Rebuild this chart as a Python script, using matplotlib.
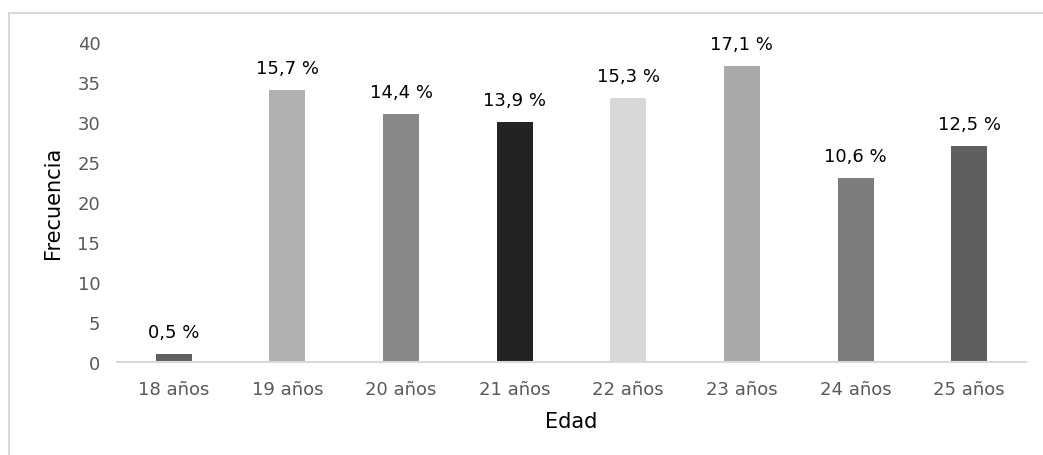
import matplotlib
matplotlib.use("Agg")
import matplotlib.pyplot as plt
from matplotlib.lines import Line2D

plt.rcParams['font.family'] = ['DejaVu Sans']

categories = ["18 años", "19 años", "20 años", "21 años", "22 años", "23 años", "24 años", "25 años"]
frecuencia = [1, 34, 31, 30, 33, 37, 23, 27]
porcentaje = ["0,5 %", "15,7 %", "14,4 %", "13,9 %", "15,3 %", "17,1 %", "10,6 %", "12,5 %"]
bar_colors = ["#5f5f5f", "#b1b1b1", "#878787", "#232323", "#d8d8d8", "#a9a9a9", "#7d7d7d", "#5f5f5f"]
yticks = [0, 5, 10, 15, 20, 25, 30, 35, 40]

W, H = 1043, 456
fig = plt.figure(figsize=(W / 100, H / 100), dpi=100)
ax = fig.add_axes([117 / W, 1 - 363 / H, (1026 - 117) / W, (363 - 43) / H])

x = list(range(len(categories)))
ax.bar(x, frecuencia, width=0.317, color=bar_colors, zorder=2)
for xi, v, lab in zip(x, frecuencia, porcentaje):
    ax.annotate(lab, (xi, v), xytext=(0, 9), textcoords="offset points",
                ha="center", va="bottom", fontsize=13, color="#000000")

ax.set_xlim(-0.5, len(categories) - 0.5)
ax.set_ylim(0, 40)
ax.set_yticks(yticks)
ax.set_xticks(x)
ax.set_xticklabels(categories)
ax.tick_params(axis="both", length=0, labelsize=13, labelcolor="#595959")
ax.tick_params(axis="y", pad=12)
ax.tick_params(axis="x", pad=13)

for s in ["top", "right", "left"]:
    ax.spines[s].set_visible(False)
ax.spines["bottom"].set_color("#d9d9d9")
ax.spines["bottom"].set_linewidth(1.5)

ax.set_ylabel("Frecuencia", fontsize=15, color="#000000", labelpad=10)
ax.set_xlabel("Edad", fontsize=15, color="#000000", labelpad=9)

# outer chart frame (top and left edges)
fig.add_artist(Line2D([8.5 / W, 1.0], [1 - 13.5 / H, 1 - 13.5 / H], color="#d9d9d9", lw=1.5))
fig.add_artist(Line2D([8.5 / W, 8.5 / W], [0, 1 - 13.5 / H], color="#d9d9d9", lw=1.5))

fig.savefig("out.png", dpi=100, facecolor="white")
